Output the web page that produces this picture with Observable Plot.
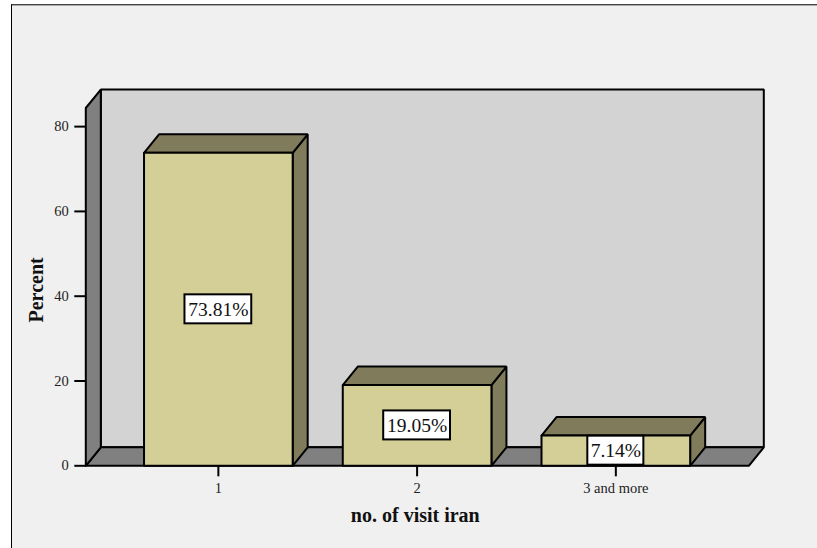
<!DOCTYPE html>
<html>
<head>
<meta charset="utf-8">
<script src="https://cdn.jsdelivr.net/npm/d3@7"></script>
<script src="https://cdn.jsdelivr.net/npm/@observablehq/plot@0.6"></script>
<style>
  html, body { margin: 0; padding: 0; background: #fff; }
  #chart svg {
    display: block;
    margin: 4px 0 0 11px;
    border-left: 1px solid #000;
    border-top: 1px solid #444;
    box-shadow: inset 0 1px 0 #aaa;
  }
</style>
</head>
<body>
<div id="chart"></div>
<script>
// Share of respondents by number of visits to Iran
const categories = ["1", "2", "3 and more"];
const positions = [0, 1, 2];
const percents = [73.81, 19.05, 7.14];
const yTicks = [0, 20, 40, 60, 80];

// Extent of the pseudo-3D box, in scale units
const xMin = -0.667, xMax = 2.669, yMax = 84.39;
const depthX = 0.0755, depthY = 4.36;
const barHalf = 0.374;
const boxHalfWidths = [0.168, 0.168, 0.141];
const boxHalfHeight = 3.42;

const bars = positions.map((p, i) => ({
  x1: p - barHalf, x2: p + barHalf, mid: p, value: percents[i],
  label: percents[i].toFixed(2) + "%", boxHalf: boxHalfWidths[i]
}));

const solid = {stroke: "#000", strokeWidth: 2, strokeLinejoin: "miter", curve: "linear"};

// A closed, filled quadrilateral drawn through the x and y scales
const face = (corners, fill) =>
  Plot.line([...corners, corners[0]].map(([x, y]) => ({x, y})), {x: "x", y: "y", fill, ...solid});

const wall = [
  face([[xMin + depthX, depthY], [xMax + depthX, depthY], [xMax + depthX, yMax + depthY], [xMin + depthX, yMax + depthY]], "#d3d3d3"),
  face([[xMin, 0], [xMax, 0], [xMax + depthX, depthY], [xMin + depthX, depthY]], "#808080"),
  face([[xMin, 0], [xMin + depthX, depthY], [xMin + depthX, yMax + depthY], [xMin, yMax]], "#808080")
];

const barFaces = bars.flatMap(b => [
  face([[b.x2, 0], [b.x2 + depthX, depthY], [b.x2 + depthX, b.value + depthY], [b.x2, b.value]], "#807c5b"),
  face([[b.x1, b.value], [b.x2, b.value], [b.x2 + depthX, b.value + depthY], [b.x1 + depthX, b.value + depthY]], "#807c5b"),
  face([[b.x1, 0], [b.x2, 0], [b.x2, b.value], [b.x1, b.value]], "#d3cf96")
]);

const chart = Plot.plot({
  width: 805,
  height: 543,
  marginLeft: 73.3,
  marginRight: 68.7,
  marginTop: 102.5,
  marginBottom: 82.7,
  style: {fontFamily: "'Liberation Serif', serif", fontSize: "14.5px", color: "#222", background: "#f0f0f0", overflow: "visible"},
  x: {domain: [xMin, xMax]},
  y: {domain: [0, yMax]},
  marks: [
    ...wall,
    ...barFaces,
    Plot.rect(bars, {
      x1: d => d.mid - d.boxHalf, x2: d => d.mid + d.boxHalf,
      y1: d => d.value / 2 - boxHalfHeight, y2: d => d.value / 2 + boxHalfHeight,
      fill: "#fff", stroke: "#000", strokeWidth: 2
    }),
    Plot.text(bars, {x: "mid", y: d => d.value / 2, text: "label", fontSize: 19.5, fill: "#111"}),
    Plot.axisX({
      ticks: positions, tickFormat: i => categories[i], label: null,
      tickSize: 11, tickPadding: 6, strokeWidth: 2, stroke: "#000"
    }),
    Plot.axisY({
      ticks: yTicks, label: null,
      tickSize: 11, tickPadding: 6, strokeWidth: 2, stroke: "#000"
    }),
    Plot.text(["no. of visit iran"], {
      frameAnchor: "bottom", dx: -2, dy: 56, fontSize: 20, fontWeight: "bold", fill: "#111"
    }),
    Plot.text(["Percent"], {
      frameAnchor: "left", textAnchor: "middle", rotate: -90, dx: -49, dy: 3, fontSize: 20, fontWeight: "bold", fill: "#111"
    })
  ]
});

document.getElementById("chart").append(chart);
</script>
</body>
</html>
